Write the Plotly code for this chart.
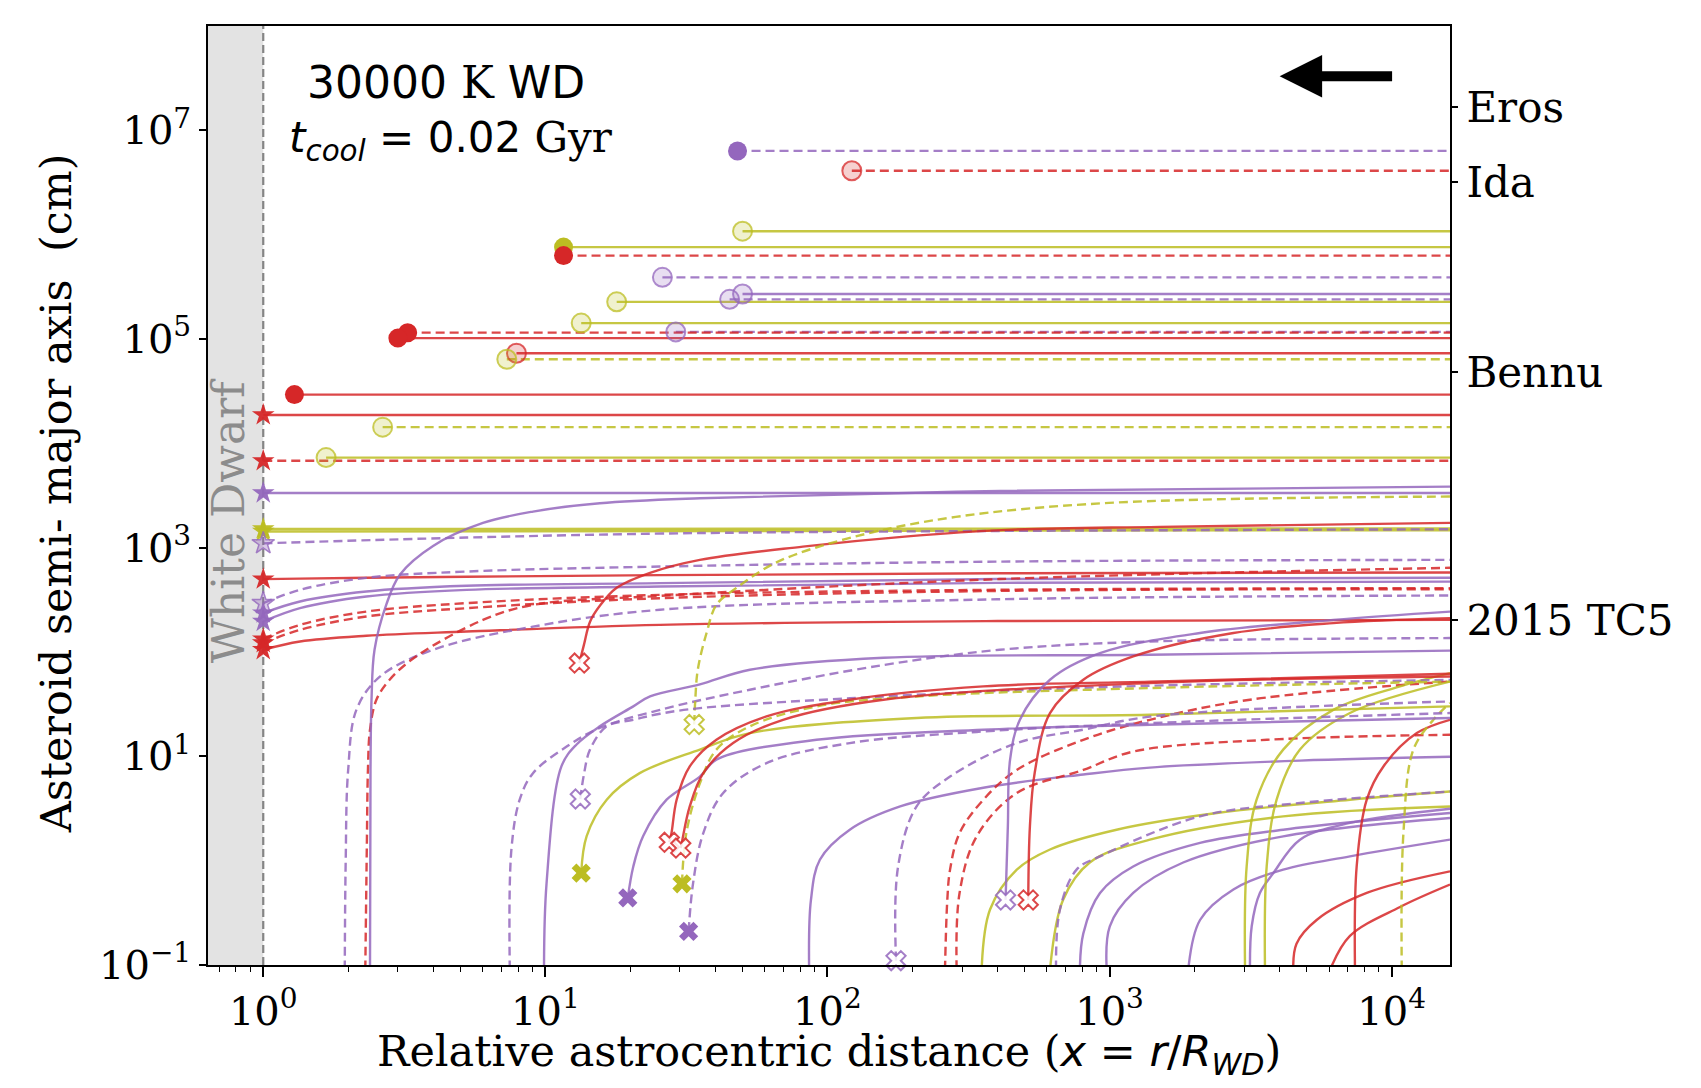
import math
import plotly.graph_objects as go

# ------------------------------------------------------------------ data
X_EDGE = 16100          # last sampled distance (right edge of the panel)

# constant-size tracks that end with a circle (rotational fission)
fis_x0 = [48, 122, 50, 11.6, 11.6, 26, 50, 45, 17.9, 13.4, 29, 3.25, 3.0, 7.9, 7.3, 1.29, 2.65, 1.67]
fis_a = [6.35e6, 4.1e6, 1.08e6, 7.6e5, 6.3e5, 3.9e5, 2.7e5, 2.4e5, 2.27e5, 1.42e5,
         1.17e5, 1.15e5, 1.02e5, 7.3e4, 6.4e4, 2.93e4, 1.43e4, 7.3e3]
fis_col = ["P", "R", "O", "O", "R", "P", "P", "P", "O", "O", "P", "R", "R", "R", "O", "R", "O", "O"]
fis_dash = [1, 1, 0, 0, 1, 1, 0, 1, 0, 0, 1, 1, 0, 0, 1, 0, 1, 0]
fis_fill = [1, 0, 0, 1, 1, 0, 0, 0, 0, 0, 0, 1, 1, 0, 0, 1, 0, 0]

# tracks that reach the white-dwarf surface (x = 1, star)
t01_x = [1, X_EDGE]; t01_y = [1.87e4, 1.87e4]
t02_x = [1, X_EDGE]; t02_y = [6.8e3, 6.8e3]
t03_x = [1, X_EDGE]; t03_y = [3.34e3, 3.34e3]
t04_x = [1, X_EDGE]; t04_y = [1.51e3, 1.53e3]
t05_x = [1, X_EDGE]; t05_y = [1.43e3, 1.47e3]
t06_x = [1, 5.25, 35.3, X_EDGE]; t06_y = [1.10e3, 1.25e3, 1.38e3, 1.50e3]
t_grid = [1, 1.35, 2.32, 5.25, 25.5, 400, X_EDGE]
t07_y = [499, 505, 515, 527, 545, 568, 578]
t08_y = [294, 394, 514, 590, 659, 735, 764]
t09_y = [236, 305, 380, 431, 457, 500, 514]
t10_y = [196, 263, 340, 394, 424, 460, 473]
t11_y = [133, 182, 244, 294, 353, 395, 409]
t12_y = [122, 163, 219, 263, 328, 385, 400]
t13_y = [105, 126, 143, 157, 182, 198, 203]

# tracks that sublimate completely (X marker at the inner end)
u01_x = [13.2, 13.7, 14.4, 15.6, 17.9, 23.5, 35.3, 81.8, 188, 433, 1510, X_EDGE]
u01_y = [78.3, 117, 195, 277, 412, 574, 764, 1024, 1277, 1481, 1583, 1729]
u02_x = [33.7, 34.0, 34.7, 37.3, 40.4, 47.6, 66.5, 124, 285, 995, X_EDGE]
u02_y = [20.2, 34.9, 67.6, 153, 283, 412, 731, 1268, 1972, 2685, 3090]
u03_x = [13.3, 13.7, 14.4, 16.5, 20.5, 25.5, 35.3, 120, 925, X_EDGE]
u03_y = [3.9, 6.7, 11.6, 19.4, 22.4, 25.6, 29, 36, 46, 54]
u04_x = [19.6, 20.5, 22.2, 26.9, 35.3, 40.4, 91.5, 357, 1390, X_EDGE]
u04_y = [0.44, 0.88, 1.71, 3.84, 6.4, 9.3, 14.4, 18.0, 20.1, 23.3]
u05_x = [32.2, 33.4, 36.3, 42.7, 60.8, 120, 357, 1390, X_EDGE]
u05_y = [0.21, 0.61, 1.84, 4.45, 8.6, 13.4, 17.3, 20.8, 26.0]
u06_x = [13.4, 14.0, 16.5, 21.6, 35.3, 53.1, 207, 1390, X_EDGE]
u06_y = [0.76, 1.71, 3.84, 6.9, 11.6, 16.7, 23.3, 25.0, 30.1]
u07_x = [30.5, 31.6, 35.3, 40.4, 53.1, 91.5, 207, 1390, X_EDGE]
u07_y = [0.6, 1.84, 5.5, 11.6, 19.4, 30.1, 37.5, 45.1, 52]
u08_x = [27.5, 28.0, 29.2, 32.5, 40.4, 60.8, 120, 357, 1390, X_EDGE]
u08_y = [1.5, 1.84, 3.84, 8.0, 14.4, 24.1, 34.9, 46.8, 52, 61.8]
u09_x = [30.2, 30.6, 32.5, 36.3, 46.3, 69.6, 158, 1390, X_EDGE]
u09_y = [1.32, 1.59, 3.31, 6.9, 13.4, 22.4, 34.9, 50.4, 58.2]
u10_x = [428, 436, 444, 481, 615, 925, 2093, 6210, X_EDGE]
u10_y = [0.42, 2.13, 9.3, 22.4, 54.2, 97.5, 152, 203, 244]
u11_x = [515, 522, 543, 615, 807, 1213, 2748, 6210, X_EDGE]
u11_y = [0.42, 2.13, 7.0, 26.0, 54.2, 90.6, 152, 189, 211]
u12_x = [175, 178, 207, 272, 469, 807, 1390, X_EDGE]
u12_y = [0.11, 0.88, 3.31, 6.4, 13.4, 18.0, 24.0, 33.6]

# tracks whose inner end lies below the plotted range
v01_x = [1.945, 1.96, 2.0, 2.14, 2.59, 4.0, 9.04, 25.5, 400, X_EDGE]
v01_y = [0.09, 1.0, 7.4, 28, 58, 105, 175, 254, 320, 348]
v02_x = [2.30, 2.33, 2.35, 2.39, 2.52, 2.81, 3.49, 6.01, 9.04, 25.5, 408, X_EDGE]
v02_y = [0.09, 1.5, 7.4, 18, 35, 54.5, 91, 203, 283, 345, 500, 641]
v03_x = [2.39, 2.40, 2.42, 2.48, 2.73, 3.05, 4.0, 6.01, 9.04, 15.6, 35.3, 408, X_EDGE]
v03_y = [0.09, 7.4, 35, 105, 284, 551, 1040, 1726, 2218, 2667, 2979, 3499, 3846]
v04_x = [7.48, 7.58, 8.11, 9.04, 11.9, 15.6, 25.5, 53.1, 158, 408, 1390, X_EDGE]
v04_y = [0.09, 1.28, 3.84, 6.9, 12.4, 18.7, 27.9, 43.5, 75, 105, 126, 136]
v05_x = [9.89, 10.1, 11.4, 12.9, 15.6, 20.5, 23.5, 35.3, 53.1, 158, 1390, X_EDGE]
v05_y = [0.09, 0.61, 8.0, 13.0, 19.4, 30.1, 37.5, 48.9, 67.6, 88, 94, 103]
v06_x = [86.1, 87.4, 94, 120, 181, 357, 807, 1390, 4732, X_EDGE]
v06_y = [0.09, 0.42, 1.02, 1.98, 3.31, 5.0, 6.7, 7.8, 9.1, 9.9]
v07_x = [261, 266, 272, 294, 357, 469, 807, 1390, 3146, X_EDGE]
v07_y = [0.09, 0.42, 0.82, 1.84, 3.84, 7.4, 14.4, 22.4, 34.9, 52.2]
v08_x = [287, 294, 338, 469, 807, 1213, 3614, X_EDGE]
v08_y = [0.09, 0.49, 1.71, 4.45, 7.4, 11.1, 14.4, 16.1]
v09_x = [352, 377, 469, 615, 1059, 2399, 7115, X_EDGE]
v09_y = [0.09, 0.34, 0.82, 1.28, 1.98, 2.86, 3.84, 4.6]
v10_x = [615, 684, 851, 1390, 4126, X_EDGE]
v10_y = [0.09, 0.42, 0.96, 1.59, 2.66, 3.31]
v11_x = [646, 667, 764, 925, 2093, 4732, X_EDGE]
v11_y = [0.09, 0.34, 0.82, 1.10, 2.66, 3.57, 4.6]
v12_x = [785, 807, 925, 1213, 2093, 4126, X_EDGE]
v12_y = [0.09, 0.2, 0.49, 0.88, 1.48, 1.98, 2.86]
v13_x = [977, 1002, 1213, 1824, 4126, X_EDGE]
v13_y = [0.09, 0.235, 0.49, 0.96, 1.71, 2.56]
v14_x = [1901, 2093, 2748, 4126, 7115, X_EDGE]
v14_y = [0.09, 0.27, 0.53, 0.82, 1.10, 1.59]
v15_x = [3146, 3191, 3411, 3808, 4732, 7115, X_EDGE]
v15_y = [0.09, 0.235, 0.49, 0.76, 1.59, 2.30, 3.15]
v16_x = [3022, 3062, 3321, 4126, 6210, 10710, X_EDGE]
v16_y = [0.09, 0.88, 3.84, 11.6, 27.9, 46.8, 62.8]
v17_x = [3556, 3606, 3910, 4732, 7115, X_EDGE]
v17_y = [0.09, 0.88, 3.84, 11.6, 26.0, 52]
v18_x = [4478, 4600, 5420, 8160, X_EDGE]
v18_y = [0.09, 0.16, 0.27, 0.49, 0.79]
v19_x = [6050, 7115, 10710, X_EDGE]
v19_y = [0.09, 0.19, 0.36, 0.59]
v20_x = [7413, 7516, 8160, 9350, 12280, X_EDGE]
v20_y = [0.09, 0.88, 3.84, 8.0, 16.7, 22.4]
v21_x = [10860, 11010, 11940, 14060, X_EDGE]
v21_y = [0.09, 1.84, 11.6, 22.4, 32.4]

# reference asteroids (right-hand axis)
ref_names = ["Eros", "Ida", "Bennu", "2015 TC5"]
ref_a = [1.66e7, 3.21e6, 4.83e4, 203]

# axis ticks
y_ticks = [1e-1, 1e1, 1e3, 1e5, 1e7]
y_ticktext = ["10<sup>\u22121</sup>", "10<sup>1</sup>", "10<sup>3</sup>", "10<sup>5</sup>", "10<sup>7</sup>"]
x_ticks = [1, 10, 100, 1000, 10000]
x_ticktext = ["10<sup>0</sup>", "10<sup>1</sup>", "10<sup>2</sup>", "10<sup>3</sup>", "10<sup>4</sup>"]

# ------------------------------------------------------------------ style
COL = {"R": (214, 39, 40), "P": (148, 103, 189), "O": (188, 189, 34)}
SERIF = "DejaVu Serif"
SANS = "DejaVu Sans"
DASH = "9px,5px"
X_RANGE = [math.log10(0.637), math.log10(X_EDGE)]
Y_RANGE = [-1, 8]


def rgba(c, a):
    r, g, b = COL[c]
    return f"rgba({r},{g},{b},{a})"


fig = go.Figure()
markers = []


def add_track(x, y, c, dashed, start=None, filled=True):
    fig.add_trace(go.Scatter(
        x=x, y=y, mode="lines",
        line=dict(color=rgba(c, 0.85), width=2.4, dash=DASH if dashed else "solid",
                  shape="spline" if len(x) > 2 else "linear", smoothing=1.0, simplify=False),
        hoverinfo="skip", showlegend=False))
    if start:
        markers.append((x[0], y[0], c, start, filled))


# fission tracks
for x0, a, c, d, f in zip(fis_x0, fis_a, fis_col, fis_dash, fis_fill):
    add_track([x0, X_EDGE], [a, a], c, d, "circle", f)

# surface-reaching tracks
add_track(t01_x, t01_y, "R", 0, "star")
add_track(t02_x, t02_y, "R", 1, "star")
add_track(t03_x, t03_y, "P", 0, "star")
add_track(t04_x, t04_y, "O", 0, "star")
add_track(t05_x, t05_y, "O", 0, "star")
add_track(t06_x, t06_y, "P", 1, "star", False)
add_track(t_grid, t07_y, "R", 0, "star")
add_track(t_grid, t08_y, "P", 1, "star", False)
add_track(t_grid, t09_y, "P", 0, "star")
add_track(t_grid, t10_y, "P", 0, "star")
add_track(t_grid, t11_y, "R", 1, "star")
add_track(t_grid, t12_y, "R", 1, "star")
add_track(t_grid, t13_y, "R", 0, "star")

# tracks from below the panel
add_track(v01_x, v01_y, "P", 1)
add_track(v02_x, v02_y, "R", 1)
add_track(v03_x, v03_y, "P", 0)
add_track(v04_x, v04_y, "P", 1)
add_track(v05_x, v05_y, "P", 0)
add_track(v06_x, v06_y, "P", 0)
add_track(v07_x, v07_y, "R", 1)
add_track(v08_x, v08_y, "R", 1)
add_track(v09_x, v09_y, "O", 0)
add_track(v10_x, v10_y, "O", 0)
add_track(v11_x, v11_y, "P", 1)
add_track(v12_x, v12_y, "P", 0)
add_track(v13_x, v13_y, "P", 0)
add_track(v14_x, v14_y, "P", 0)
add_track(v15_x, v15_y, "P", 0)
add_track(v16_x, v16_y, "O", 0)
add_track(v17_x, v17_y, "O", 0)
add_track(v18_x, v18_y, "R", 0)
add_track(v19_x, v19_y, "R", 0)
add_track(v20_x, v20_y, "R", 0)
add_track(v21_x, v21_y, "O", 1)

# fully sublimated tracks
add_track(u01_x, u01_y, "R", 0, "x", False)
add_track(u02_x, u02_y, "O", 1, "x", False)
add_track(u03_x, u03_y, "P", 1, "x", False)
add_track(u04_x, u04_y, "P", 0, "x", True)
add_track(u05_x, u05_y, "P", 1, "x", True)
add_track(u06_x, u06_y, "O", 0, "x", True)
add_track(u07_x, u07_y, "O", 1, "x", True)
add_track(u08_x, u08_y, "R", 0, "x", False)
add_track(u09_x, u09_y, "R", 0, "x", False)
add_track(u10_x, u10_y, "P", 0, "x", False)
add_track(u11_x, u11_y, "R", 0, "x", False)
add_track(u12_x, u12_y, "P", 1, "x", False)

# WD surface line
fig.add_trace(go.Scatter(x=[1, 1], y=[10 ** Y_RANGE[0], 10 ** Y_RANGE[1]], mode="lines",
                         line=dict(color="rgba(120,120,120,0.9)", width=2.2, dash="8px,4px"),
                         hoverinfo="skip", showlegend=False))

# markers on top
for mx, my, c, sym, filled in markers:
    if sym == "circle":
        if filled:
            mk = dict(symbol="circle", size=19, color=rgba(c, 1.0), line=dict(width=0))
        else:
            mk = dict(symbol="circle", size=19, color=rgba(c, 0.22), line=dict(color=rgba(c, 0.75), width=2))
    elif sym == "star":
        if filled:
            mk = dict(symbol="star", size=17, color=rgba(c, 0.95), line=dict(width=0))
        else:
            mk = dict(symbol="star", size=17, color=rgba(c, 0.35), line=dict(color=rgba(c, 0.8), width=1.5))
    else:
        if filled:
            mk = dict(symbol="x", size=17, color=rgba(c, 1.0), line=dict(width=0))
        else:
            mk = dict(symbol="x", size=17, color="rgba(255,255,255,0.85)", line=dict(color=rgba(c, 0.85), width=2))
    fig.add_trace(go.Scatter(x=[mx], y=[my], mode="markers", marker=mk, hoverinfo="skip",
                             showlegend=False, cliponaxis=False))

# right-hand reference axis anchor trace
fig.add_trace(go.Scatter(x=[1], y=[ref_a[-1]], yaxis="y2", mode="markers",
                         marker=dict(size=1, opacity=0), hoverinfo="skip", showlegend=False))

wd_frac = (0 - X_RANGE[0]) / (X_RANGE[1] - X_RANGE[0])

# the page body adds an 8 px margin, so the figure is sized to fit inside the window
fig.update_layout(
    width=1685, height=1072,
    margin=dict(l=200, r=243, t=18, b=115),
    paper_bgcolor="white", plot_bgcolor="white",
    font=dict(family=SERIF, size=36, color="black"),
    xaxis=dict(type="log", range=X_RANGE, showgrid=False, zeroline=False,
               showline=True, linecolor="black", linewidth=1.6, mirror=True,
               ticks="outside", ticklen=10, tickwidth=1.5, tickcolor="black",
               tickvals=x_ticks, ticktext=x_ticktext,
               tickfont=dict(family=SERIF, size=40),
               minor=dict(ticks="outside", ticklen=5, tickwidth=1.2, tickcolor="black",
                          tickvals=[m * 10 ** e for e in range(-1, 5) for m in range(2, 10)],
                          showgrid=False)),
    yaxis=dict(type="log", range=Y_RANGE, showgrid=False, zeroline=False,
               showline=True, linecolor="black", linewidth=1.6, mirror=True,
               ticks="outside", ticklen=7, tickwidth=1.5, tickcolor="black",
               tickvals=y_ticks, ticktext=y_ticktext,
               tickfont=dict(family=SERIF, size=40)),
    yaxis2=dict(type="log", range=Y_RANGE, overlaying="y", side="right", showgrid=False,
                zeroline=False, showline=False, ticks="outside", ticklen=7, tickwidth=1.5,
                tickcolor="black", tickvals=ref_a, ticktext=ref_names,
                tickfont=dict(family=SERIF, size=42)),
    shapes=[dict(type="rect", xref="paper", yref="paper", x0=0, x1=wd_frac, y0=0, y1=1,
                 fillcolor="#e3e3e3", line=dict(width=0), layer="below")],
    annotations=[
        dict(text="White Dwarf", xref="paper", yref="paper", x=0.0165, y=0.473, showarrow=False,
             textangle=-90, font=dict(family=SERIF, size=44, color="#8c8c8c"),
             xanchor="center", yanchor="middle"),
        dict(text="30000 <span style=\"font-family:'DejaVu Serif'\">K</span> WD",
             xref="paper", yref="paper", x=0.192, y=0.9395, showarrow=False,
             font=dict(family=SANS, size=44, color="black"), xanchor="center", yanchor="middle"),
        dict(text="<i>t</i><sub><i>cool</i></sub> = 0.02 <span style=\"font-family:'DejaVu Serif'\">Gyr</span>",
             xref="paper", yref="paper", x=0.196, y=0.878, showarrow=False,
             font=dict(family=SANS, size=42, color="black"), xanchor="center", yanchor="middle"),
        dict(text="", xref="paper", yref="paper", x=0.8628, y=0.9466, ax=114, ay=0,
             showarrow=True, arrowhead=2, arrowsize=0.85, arrowwidth=10, arrowcolor="black"),
        dict(text="Relative astrocentric distance (<span style=\"font-family:'DejaVu Sans'\"><i>x</i> = <i>r</i>/<i>R</i><sub><i>WD</i></sub></span>)",
             xref="paper", yref="paper", x=0.5, y=-0.095, showarrow=False,
             font=dict(family=SERIF, size=43), xanchor="center", yanchor="middle"),
        dict(text="Asteroid semi- major axis  (cm)", xref="paper", yref="paper",
             x=-0.1226, y=0.502, showarrow=False, textangle=-90,
             font=dict(family=SERIF, size=43), xanchor="center", yanchor="middle"),
    ],
)

fig.write_html("out.html")
